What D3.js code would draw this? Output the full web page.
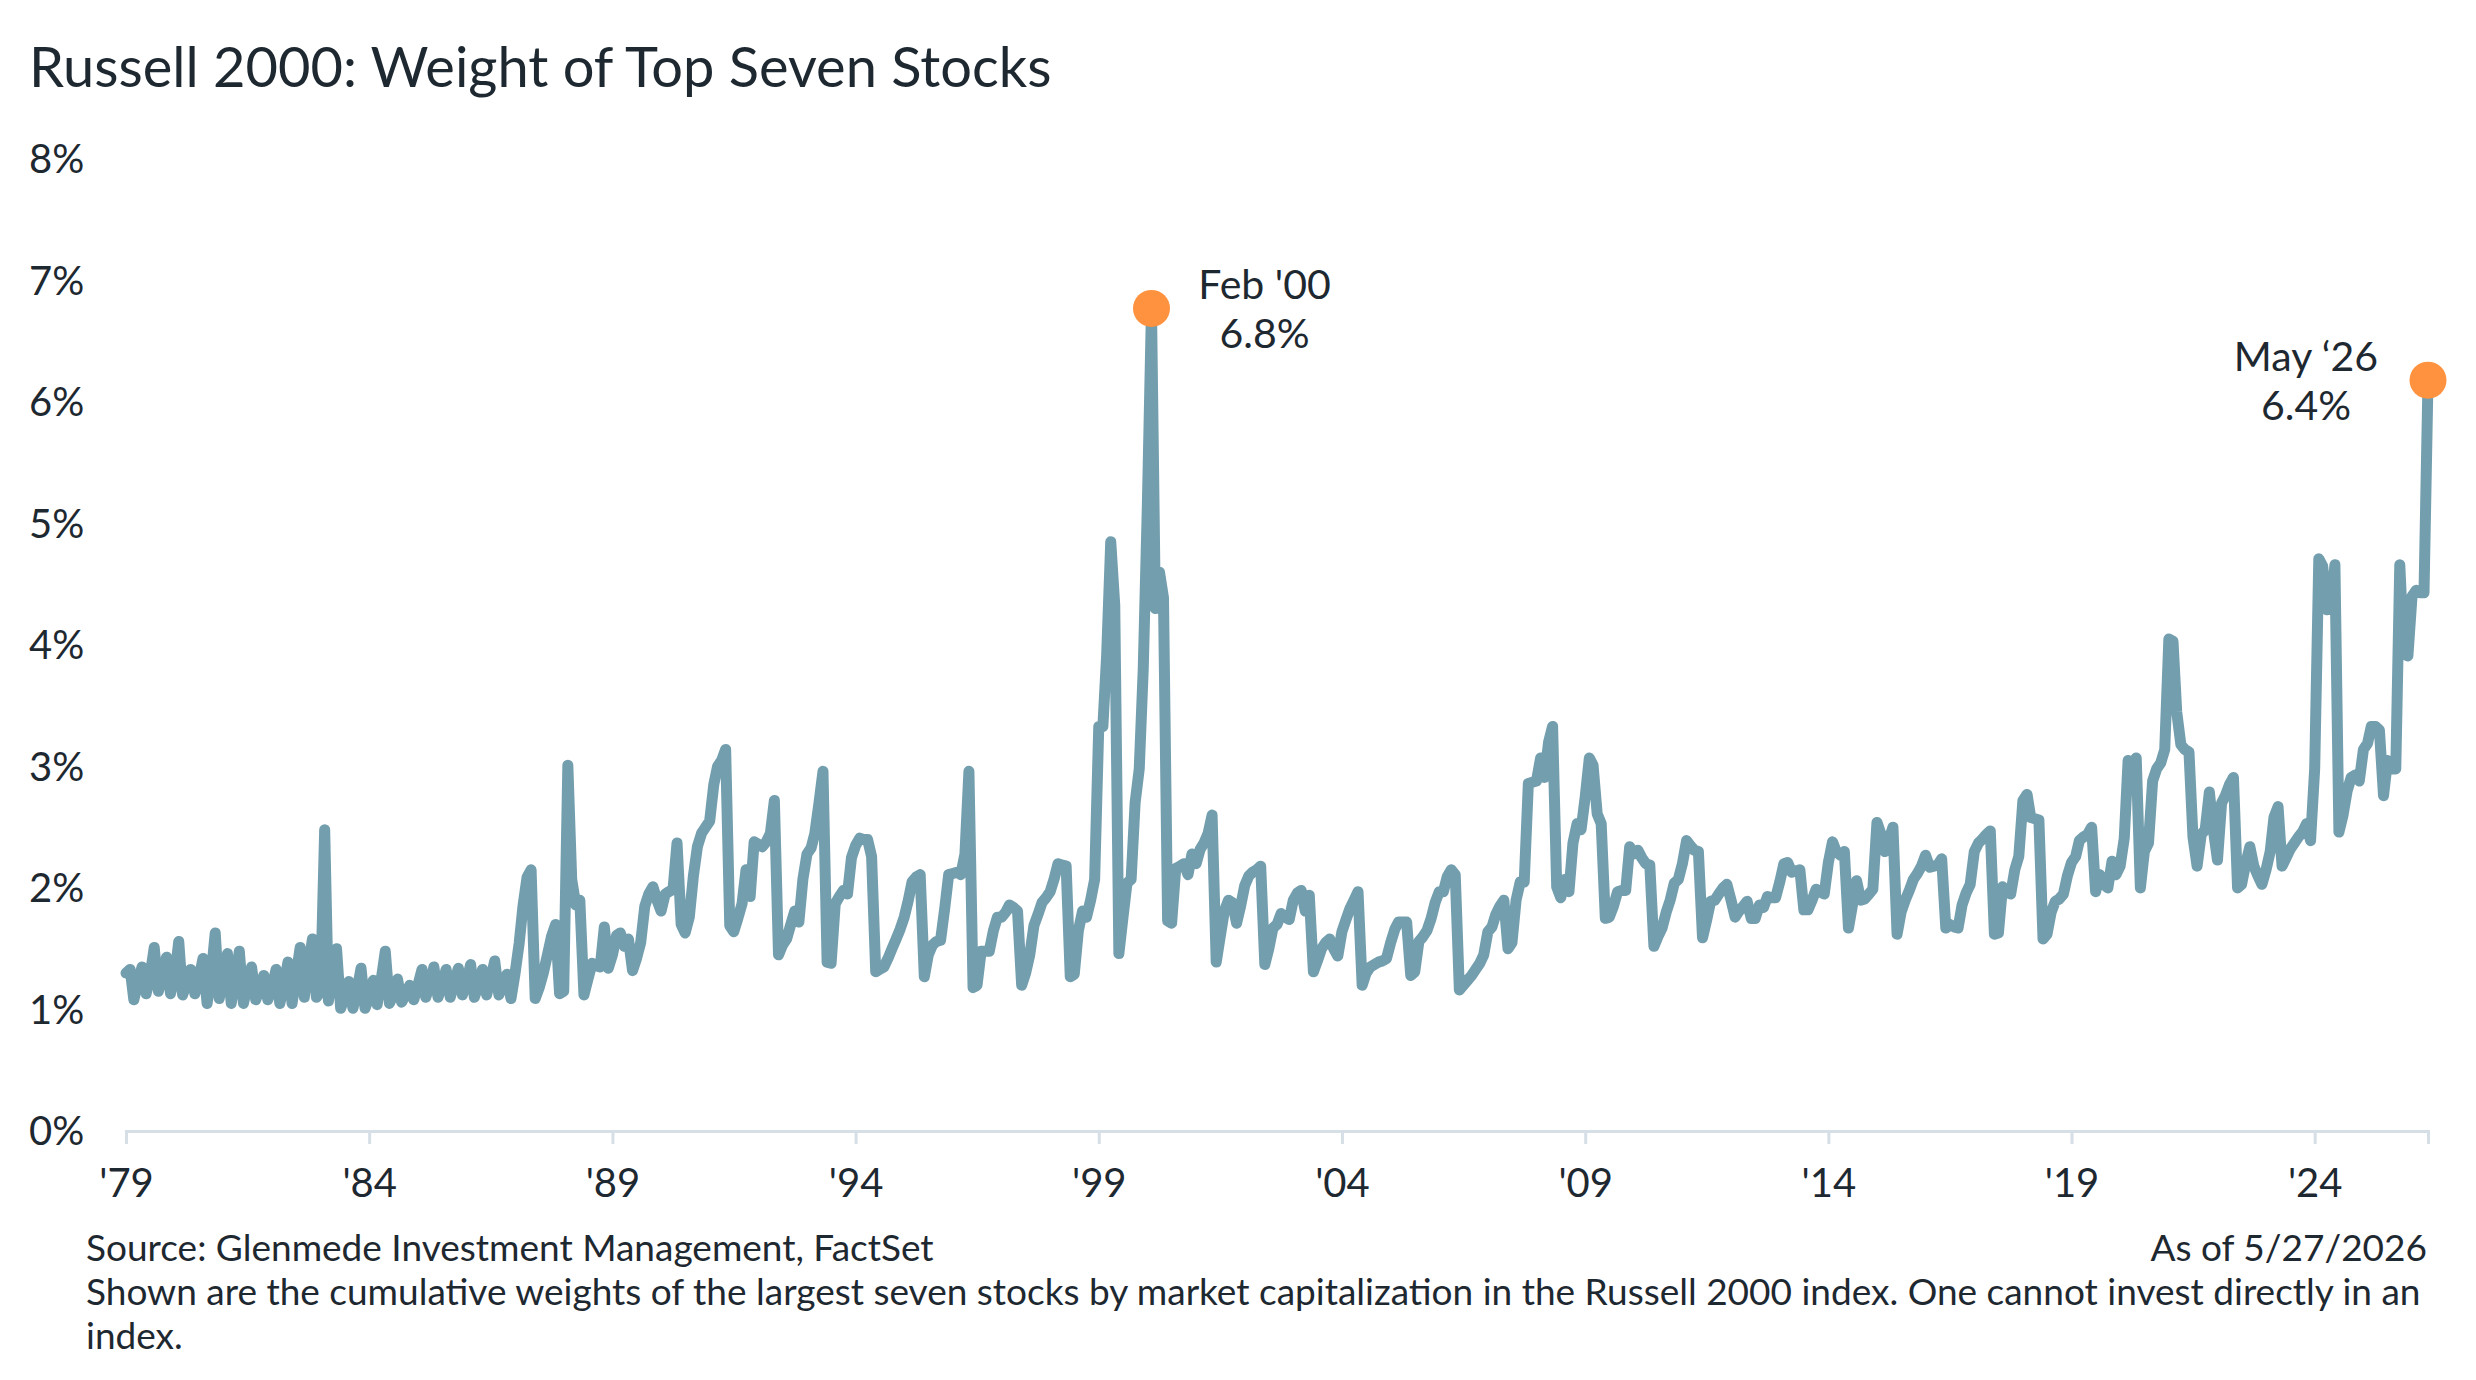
<!DOCTYPE html>
<html>
<head>
<meta charset="utf-8">
<script src="https://cdn.jsdelivr.net/npm/d3@7"></script>
<style>
  body { margin: 0; background: #fff; }
  text { font-family: Lato, "Open Sans", sans-serif; fill: #1e2830; }
  .tick-label { font-size: 40px; }
  .note { font-size: 37px; }
  .anno { font-size: 41px; }
</style>
</head>
<body>
<div id="chart"></div>
<script>
// Monthly weight (%) of the top seven stocks, Jan 1979 onward, one row per year
const w1979to1988 = [
  1.30, 1.33, 1.08, 1.22, 1.35, 1.13, 1.28, 1.51, 1.15, 1.27, 1.43, 1.13,
  1.26, 1.56, 1.12, 1.22, 1.33, 1.13, 1.25, 1.42, 1.05, 1.28, 1.63, 1.09,
  1.25, 1.46, 1.05, 1.25, 1.48, 1.05, 1.20, 1.35, 1.08, 1.17, 1.28, 1.08,
  1.18, 1.33, 1.05, 1.20, 1.39, 1.05, 1.28, 1.51, 1.10, 1.35, 1.58, 1.10,
  1.15, 2.48, 1.07, 1.30, 1.50, 1.01, 1.10, 1.23, 1.01, 1.15, 1.34, 1.01,
  1.10, 1.24, 1.04, 1.25, 1.48, 1.05, 1.12, 1.25, 1.06, 1.12, 1.20, 1.08,
  1.20, 1.33, 1.10, 1.20, 1.35, 1.10, 1.20, 1.33, 1.10, 1.22, 1.34, 1.12,
  1.22, 1.37, 1.10, 1.20, 1.33, 1.12, 1.25, 1.40, 1.12, 1.20, 1.29, 1.09,
  1.30, 1.55, 1.85, 2.09, 2.15, 1.09, 1.18, 1.30, 1.45, 1.60, 1.70, 1.13,
  1.15, 3.01, 2.07, 1.86, 1.90, 1.12, 1.25, 1.38, 1.36, 1.35, 1.68, 1.34
]
const w1989to1998 = [
  1.45, 1.61, 1.63, 1.52, 1.58, 1.32, 1.42, 1.55, 1.85, 1.95, 2.01, 1.90,
  1.81, 1.95, 1.97, 1.99, 2.37, 1.70, 1.63, 1.76, 2.10, 2.34, 2.45, 2.50,
  2.55, 2.85, 3.00, 3.05, 3.14, 1.69, 1.64, 1.75, 1.87, 2.15, 1.93, 2.38,
  2.36, 2.34, 2.38, 2.45, 2.72, 1.45, 1.53, 1.58, 1.70, 1.81, 1.72, 2.07,
  2.28, 2.33, 2.45, 2.70, 2.96, 1.39, 1.38, 1.87, 1.93, 1.98, 1.95, 2.25,
  2.35, 2.41, 2.40, 2.40, 2.26, 1.31, 1.33, 1.35, 1.42, 1.50, 1.58, 1.66,
  1.76, 1.90, 2.05, 2.09, 2.11, 1.27, 1.45, 1.53, 1.56, 1.57, 1.83, 2.11,
  2.12, 2.13, 2.11, 2.28, 2.96, 1.18, 1.20, 1.48, 1.48, 1.48, 1.65, 1.76,
  1.76, 1.80, 1.86, 1.84, 1.81, 1.20, 1.30, 1.45, 1.69, 1.78, 1.88, 1.92,
  1.97, 2.08, 2.20, 2.19, 2.18, 1.27, 1.29, 1.65, 1.81, 1.76, 1.90, 2.07
]
const w1999to2008 = [
  3.33, 3.33, 3.91, 4.85, 4.33, 1.46, 1.75, 2.04, 2.07, 2.70, 2.98, 3.80,
  5.15, 6.77, 4.30, 4.60, 4.39, 1.73, 1.71, 2.16, 2.18, 2.20, 2.11, 2.28,
  2.20, 2.32, 2.37, 2.45, 2.60, 1.39, 1.60, 1.81, 1.90, 1.88, 1.71, 1.85,
  2.02, 2.10, 2.13, 2.15, 2.18, 1.37, 1.50, 1.67, 1.70, 1.79, 1.76, 1.74,
  1.90, 1.96, 1.98, 1.81, 1.94, 1.31, 1.40, 1.50, 1.55, 1.58, 1.50, 1.44,
  1.64, 1.74, 1.83, 1.90, 1.97, 1.20, 1.30, 1.35, 1.37, 1.39, 1.40, 1.42,
  1.55, 1.66, 1.72, 1.72, 1.72, 1.28, 1.31, 1.56, 1.60, 1.65, 1.75, 1.88,
  1.97, 1.97, 2.09, 2.15, 2.11, 1.16, 1.20, 1.24, 1.28, 1.33, 1.38, 1.45,
  1.64, 1.68, 1.78, 1.85, 1.90, 1.50, 1.55, 1.90, 2.05, 2.05, 2.86, 2.87,
  2.88, 3.07, 2.91, 3.20, 3.33, 2.01, 1.92, 2.07, 1.97, 2.37, 2.53, 2.48
]
const w2009to2018 = [
  2.75, 3.07, 3.01, 2.61, 2.53, 1.75, 1.76, 1.85, 1.97, 1.98, 1.98, 2.34,
  2.28, 2.31, 2.25, 2.20, 2.19, 1.52, 1.60, 1.67, 1.80, 1.90, 2.04, 2.07,
  2.20, 2.39, 2.35, 2.31, 2.30, 1.59, 1.73, 1.89, 1.90, 1.95, 2.00, 2.03,
  1.90, 1.76, 1.81, 1.85, 1.89, 1.75, 1.75, 1.86, 1.84, 1.93, 1.92, 1.92,
  2.05, 2.20, 2.21, 2.13, 2.14, 2.15, 1.82, 1.82, 1.90, 1.99, 1.97, 1.95,
  2.21, 2.38, 2.30, 2.27, 2.30, 1.67, 1.86, 2.06, 1.90, 1.91, 1.95, 1.99,
  2.54, 2.44, 2.30, 2.40, 2.50, 1.62, 1.80, 1.90, 1.98, 2.07, 2.12, 2.18,
  2.27, 2.17, 2.18, 2.19, 2.24, 1.67, 1.70, 1.68, 1.67, 1.86, 1.96, 2.03,
  2.30, 2.37, 2.40, 2.44, 2.47, 1.62, 1.63, 2.01, 1.97, 1.95, 2.15, 2.26,
  2.72, 2.77, 2.58, 2.57, 2.56, 1.58, 1.62, 1.80, 1.89, 1.91, 1.95, 2.10
]
const w2019to2026 = [
  2.21, 2.26, 2.39, 2.42, 2.44, 2.50, 1.97, 2.11, 2.03, 2.00, 2.22, 2.11,
  2.18, 2.41, 3.05, 3.03, 3.07, 2.00, 2.30, 2.37, 2.88, 2.98, 3.03, 3.14,
  4.05, 4.03, 3.45, 3.18, 3.14, 3.12, 2.42, 2.18, 2.44, 2.48, 2.79, 2.48,
  2.23, 2.70, 2.76, 2.85, 2.91, 2.00, 2.03, 2.20, 2.34, 2.18, 2.10, 2.03,
  2.15, 2.30, 2.58, 2.67, 2.18, 2.25, 2.32, 2.37, 2.42, 2.46, 2.53, 2.39,
  2.98, 4.71, 4.65, 4.29, 4.30, 4.66, 2.46, 2.60, 2.80, 2.91, 2.93, 2.88,
  3.14, 3.19, 3.33, 3.33, 3.30, 2.76, 3.05, 2.98, 2.98, 4.66, 3.93, 3.91,
  4.40, 4.45, 4.43, 4.43, 6.18
]

const startMonth = new Date(1979, 0, 1)
const xTickYears = [1979, 1984, 1989, 1994, 1999, 2004, 2009, 2014, 2019, 2024]
const xTickLabels = ["'79", "'84", "'89", "'94", "'99", "'04", "'09", "'14", "'19", "'24"]
const yTicks = [0, 1, 2, 3, 4, 5, 6, 7, 8]

const highlightDates = [new Date(2000, 1, 1), new Date(2026, 4, 1)]
const highlightNames = ["Feb '00", "May \u201826"]
const highlightValues = ["6.8%", "6.4%"]

const titleText = "Russell 2000: Weight of Top Seven Stocks"
const sourceText = "Source: Glenmede Investment Management, FactSet"
const asOfText = "As of 5/27/2026"
const noteLines = [
  "Shown are the cumulative weights of the largest seven stocks by market capitalization in the Russell 2000 index. One cannot invest directly in an",
  "index."
]

function drawChart() {
  const weights = [].concat(w1979to1988, w1989to1998, w1999to2008, w2009to2018, w2019to2026)
  const dataset = weights.map((v, i) => ({ date: d3.timeMonth.offset(startMonth, i), value: v }))

  const dateAccessor = d => d.date
  const valueAccessor = d => d.value

  let dimensions = {
    width: 2476,
    height: 1380,
    margin: { top: 159, right: 48, bottom: 249, left: 126 },
  }
  dimensions.boundedWidth = dimensions.width - dimensions.margin.left - dimensions.margin.right
  dimensions.boundedHeight = dimensions.height - dimensions.margin.top - dimensions.margin.bottom

  const svg = d3.select("#chart")
    .append("svg")
    .attr("width", dimensions.width)
    .attr("height", dimensions.height)

  const bounds = svg.append("g")
    .attr("transform", `translate(${dimensions.margin.left}, ${dimensions.margin.top})`)

  // Scales
  const xScale = d3.scaleTime()
    .domain(d3.extent(dataset, dateAccessor))
    .range([0, dimensions.boundedWidth])

  const yScale = d3.scaleLinear()
    .domain([0, 8])
    .range([dimensions.boundedHeight, 0])

  // Axes
  const xAxis = bounds.append("g")
    .attr("transform", `translate(0, ${dimensions.boundedHeight})`)
    .call(d3.axisBottom(xScale)
      .tickValues(xTickYears.map(y => new Date(y, 0, 1)))
      .tickFormat((d, i) => xTickLabels[i])
      .tickSize(13)
      .tickPadding(25))
  xAxis.select(".domain").attr("stroke", "#d6dee6").attr("stroke-width", 3)
  xAxis.selectAll(".tick line").attr("stroke", "#d6dee6").attr("stroke-width", 3)
  xAxis.selectAll(".tick text")
    .attr("class", "tick-label")
    .attr("font-family", null)
    .attr("font-size", null)
    .attr("fill", null)

  bounds.append("g")
    .selectAll("text")
    .data(yTicks)
    .join("text")
    .attr("class", "tick-label")
    .attr("x", 29 - dimensions.margin.left)
    .attr("y", d => yScale(d) + 4)
    .attr("dominant-baseline", "middle")
    .text(d => `${d}%`)

  // Line
  const lineGenerator = d3.line()
    .x(d => xScale(dateAccessor(d)))
    .y(d => yScale(valueAccessor(d)))

  bounds.append("path")
    .datum(dataset)
    .attr("d", lineGenerator)
    .attr("fill", "none")
    .attr("stroke", "#739eae")
    .attr("stroke-width", 11)
    .attr("stroke-linejoin", "round")
    .attr("stroke-linecap", "round")

  // Highlighted points
  const highlights = highlightDates.map((date, i) => {
    const point = dataset.find(d => +d.date === +date)
    return { point, name: highlightNames[i], value: highlightValues[i], side: i === 0 ? 1 : -1 }
  })

  bounds.selectAll(".dot")
    .data(highlights)
    .join("circle")
    .attr("class", "dot")
    .attr("cx", d => xScale(dateAccessor(d.point)))
    .attr("cy", d => yScale(valueAccessor(d.point)))
    .attr("r", 18.5)
    .attr("fill", "#ff923e")

  const annos = bounds.selectAll(".anno-group")
    .data(highlights)
    .join("g")
    .attr("class", "anno-group")
    .attr("transform", d => `translate(${
      xScale(dateAccessor(d.point)) + (d.side > 0 ? 113 : -122)
    }, ${
      yScale(valueAccessor(d.point))
    })`)
  annos.append("text")
    .attr("class", "anno")
    .attr("text-anchor", "middle")
    .attr("y", -9)
    .text(d => d.name)
  annos.append("text")
    .attr("class", "anno")
    .attr("text-anchor", "middle")
    .attr("y", 40)
    .text(d => d.value)

  // Title and notes
  svg.append("text")
    .attr("x", 29)
    .attr("y", 87)
    .style("font-size", "56px")
    .text(titleText)

  svg.append("text")
    .attr("class", "note")
    .attr("x", 86)
    .attr("y", 1261)
    .text(sourceText)

  svg.append("text")
    .attr("class", "note")
    .attr("x", 2427)
    .attr("y", 1261)
    .attr("text-anchor", "end")
    .text(asOfText)

  svg.selectAll(".note-line")
    .data(noteLines)
    .join("text")
    .attr("class", "note note-line")
    .attr("x", 86)
    .attr("y", (d, i) => 1305 + i * 44)
    .text(d => d)
}
drawChart()
</script>
</body>
</html>
